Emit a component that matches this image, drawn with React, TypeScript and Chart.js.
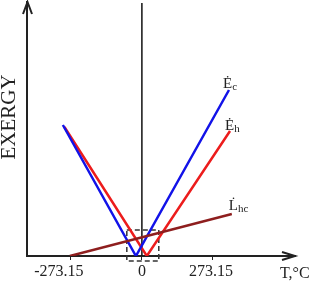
import React, { useEffect, useRef } from "react";
import { Chart, registerables } from "chart.js";

Chart.register(...registerables);

// x axis ticks (temperature, °C)
const xTicks = [-273.15, 0, 273.15];
const xTickLabels = ["-273.15      ", "0", "273.15 "];

// Exergy of cold (blue)
const ecT = [-304, -23, 335];
const ecE = [131, 0, 166];
// Exergy of heat (red)
const ehT = [-298, 19, 339];
const ehE = [129, 0, 125];
// Loss line (brown)
const lhcT = [-277, 346];
const lhcE = [0, 42];
// Zero line
const zeroT = [0, 0];
const zeroE = [0, 253];
// Dashed box around the minimum region
const boxT = [-58, 65, 65, -58, -58];
const boxE = [26, 26, -5, -5, 26];

const FONT = "'Liberation Serif', 'Times New Roman', serif";
const INK = "#222";

const toPts = (xs: number[], ys: number[]) => xs.map((v, i) => ({ x: v, y: ys[i] }));

const overlay = {
  id: "overlay",
  afterDraw(chart: any) {
    const { ctx, chartArea, scales } = chart;
    const xs = scales.x;
    const ys = scales.y;
    ctx.save();
    ctx.strokeStyle = INK;
    ctx.lineWidth = 2;
    // y arrow
    const ax = chartArea.left + 0.5;
    const at = chartArea.top;
    ctx.beginPath();
    ctx.moveTo(ax - 4.5, at + 12);
    ctx.lineTo(ax, at);
    ctx.lineTo(ax + 4.5, at + 12);
    ctx.stroke();
    // x arrow
    const bx = chartArea.right;
    const by = chartArea.bottom;
    ctx.beginPath();
    ctx.moveTo(bx - 13, by - 4);
    ctx.lineTo(bx, by);
    ctx.lineTo(bx - 13, by + 4);
    ctx.stroke();

    ctx.fillStyle = INK;
    ctx.textBaseline = "alphabetic";
    // EXERGY
    ctx.save();
    ctx.font = `21px ${FONT}`;
    ctx.translate(15, 117);
    ctx.rotate(-Math.PI / 2);
    ctx.textAlign = "center";
    ctx.fillText("EXERGY", 0, 0);
    ctx.restore();
    // T,°C
    ctx.font = `16px ${FONT}`;
    ctx.textAlign = "left";
    ctx.fillText("T,°C", 280, 278);

    const label = (main: string, sub: string, px: number, py: number) => {
      ctx.font = `15px ${FONT}`;
      ctx.textAlign = "left";
      ctx.fillText(main, px, py);
      const w = ctx.measureText(main).width;
      ctx.font = `11px ${FONT}`;
      ctx.fillText(sub, px + w, py + 2);
    };
    const ecx = xs.getPixelForValue(ecT[2]);
    const ecy = ys.getPixelForValue(ecE[2]);
    label("\u0116", "c", ecx - 6, ecy - 2);
    const ehx = xs.getPixelForValue(ehT[2]);
    const ehy = ys.getPixelForValue(ehE[2]);
    label("\u0116", "h", ehx - 5, ehy - 1);
    const lx = xs.getPixelForValue(lhcT[1]);
    const ly = ys.getPixelForValue(lhcE[1]);
    label("L\u0307", "hc", lx - 3, ly - 4);
    ctx.restore();
  },
};

export default function App() {
  const ref = useRef<HTMLCanvasElement | null>(null);
  useEffect(() => {
    document.body.style.margin = "0";
    const canvas = ref.current;
    if (!canvas) return;
    const chart = new Chart(canvas, {
      type: "scatter",
      data: {
        datasets: [
          {
            label: "Ėc",
            data: toPts(ecT, ecE),
            showLine: true,
            borderColor: "#1212e8",
            borderWidth: 2.5,
            pointRadius: 0,
            order: 1,
          },
          {
            label: "Ėh",
            data: toPts(ehT, ehE),
            showLine: true,
            borderColor: "#ec1c1c",
            borderWidth: 2.5,
            pointRadius: 0,
            order: 2,
          },
          {
            label: "L̇hc",
            data: toPts(lhcT, lhcE),
            showLine: true,
            borderColor: "#8e1e1e",
            borderWidth: 2.5,
            pointRadius: 0,
            order: 0,
          },
          {
            label: "zero",
            data: toPts(zeroT, zeroE),
            showLine: true,
            borderColor: "#111",
            borderWidth: 1.5,
            pointRadius: 0,
            order: 3,
          },
          {
            label: "box",
            data: toPts(boxT, boxE),
            showLine: true,
            borderColor: "#333",
            borderWidth: 1.5,
            borderDash: [5, 3],
            pointRadius: 0,
            clip: false as any,
            order: 4,
          },
        ],
      },
      options: {
        responsive: false,
        animation: false,
        events: [],
        layout: { padding: { top: 2, right: 21, left: 0, bottom: 0 } },
        plugins: {
          legend: { display: false },
          tooltip: { enabled: false },
          title: { display: false },
        },
        scales: {
          x: {
            type: "linear",
            min: -442,
            max: 589,
            afterBuildTicks: (s: any) => {
              s.ticks = xTicks.map((v) => ({ value: v }));
            },
            afterFit: (s: any) => {
              s.height = 30;
            },
            ticks: {
              autoSkip: false,
              maxRotation: 0,
              padding: 2,
              color: INK,
              font: { family: FONT, size: 16 },
              callback: (_v: any, i: number) => xTickLabels[i],
            },
            grid: {
              display: true,
              drawOnChartArea: false,
              drawTicks: true,
              tickLength: 4,
              color: INK,
              lineWidth: 1,
            },
            border: { display: true, color: INK, width: 2 },
          },
          y: {
            type: "linear",
            min: 0,
            max: 254,
            afterFit: (s: any) => {
              s.width = 27;
            },
            ticks: { display: false },
            grid: { display: false },
            border: { display: true, color: INK, width: 2 },
          },
        },
      },
      plugins: [overlay],
    });
    return () => chart.destroy();
  }, []);
  return <canvas ref={ref} width={316} height={286} style={{ display: "block" }} />;
}
